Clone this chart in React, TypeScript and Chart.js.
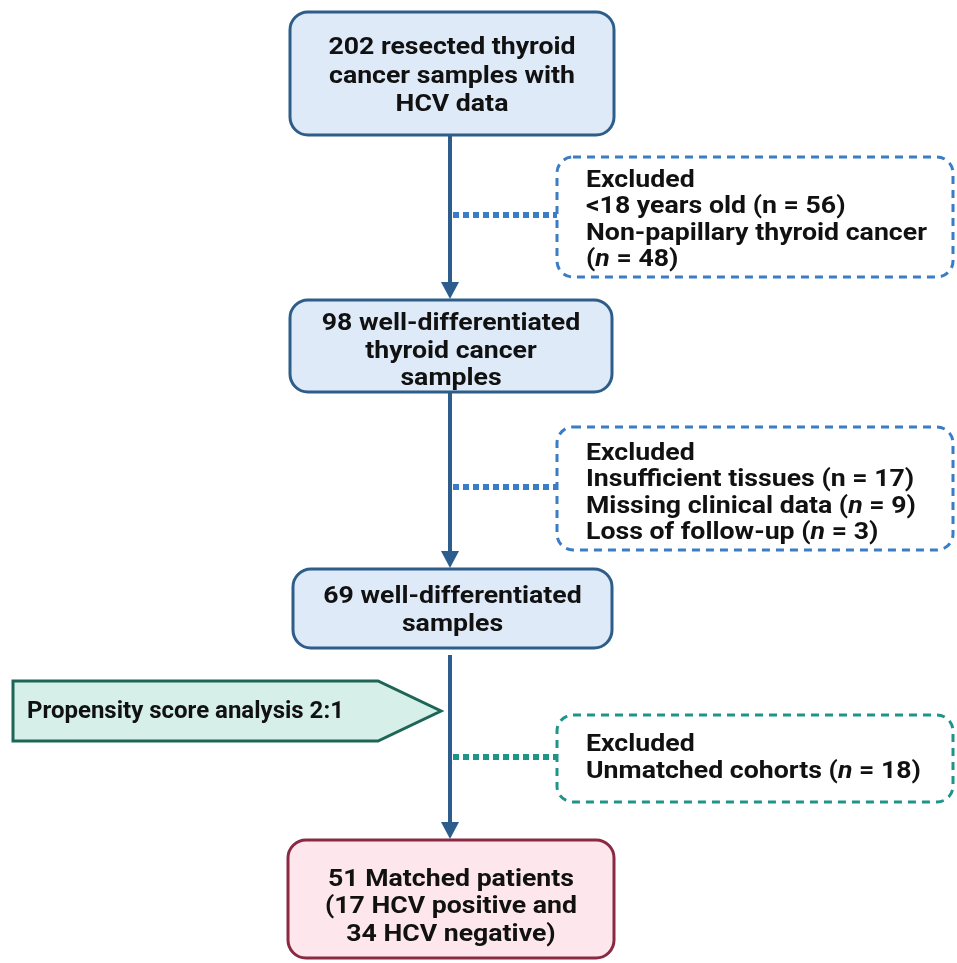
import React, { useEffect, useRef } from "react";
import { Chart, registerables } from "chart.js";

Chart.register(...registerables);

// ---- data (texts of the flow nodes) ----
const mainSteps: string[][] = [
  ["202 resected thyroid", "cancer samples with", "HCV data"],
  ["98 well-differentiated", "thyroid cancer", "samples"],
  ["69 well-differentiated", "samples"],
  ["51 Matched patients", "(17 HCV positive and", "34 HCV negative)"],
];
const exclusions: string[][] = [
  ["Excluded", "<18 years old (n = 56)", "Non-papillary thyroid cancer", "(*n* = 48)"],
  ["Excluded", "Insufficient tissues (n = 17)", "Missing clinical data (*n* = 9)", "Loss of follow-up (*n* = 3)"],
  ["Excluded", "Unmatched cohorts (*n* = 18)"],
];
const sideNote: string[] = ["Propensity score analysis 2:1"];

// ---- layout (in data units of the hidden 0..957 x 0..963 scales) ----
const mainBoxes = [
  { x0: 290, x1: 614, y0: 12, y1: 135, lines: [48, 77, 105], fill: "#dfeaf8", stroke: "#2d5d88" },
  { x0: 290, x1: 612, y0: 300, y1: 392, lines: [324, 352, 379], fill: "#dfeaf8", stroke: "#2d5d88" },
  { x0: 293, x1: 612, y0: 569, y1: 648, lines: [597, 625], fill: "#dfeaf8", stroke: "#2d5d88" },
  { x0: 288, x1: 614, y0: 840, y1: 958, lines: [880, 907, 935], fill: "#fde6ec", stroke: "#8a2a42" },
];
const exclBoxes = [
  { x0: 557, x1: 953, y0: 157, y1: 277, tx: 586, lines: [181, 207, 234, 260], conn: 215, color: "#3a7cc6" },
  { x0: 557, x1: 953, y0: 427, y1: 550, tx: 586, lines: [454, 480, 507, 533], conn: 487, color: "#3a7cc6" },
  { x0: 557, x1: 953, y0: 715, y1: 802, tx: 586, lines: [745, 772], conn: 757, color: "#1f9488" },
];
const arrows = [
  { x: 450, y0: 135, y1: 299 },
  { x: 450, y0: 392, y1: 568 },
  { x: 450, y0: 655, y1: 839 },
];
const pentagon = { x0: 13, x1: 378, tip: 441, y0: 681, y1: 741, tx: 27, ty: 712 };

const FONT = "Roboto, 'Noto Sans', sans-serif";

function drawRich(
  ctx: CanvasRenderingContext2D,
  text: string,
  x: number,
  y: number,
  size: number,
  align: "left" | "center",
  stretch: number
) {
  const parts = text.split("*");
  const segs = parts.map((t, i) => ({ t, it: i % 2 === 1 }));
  const fontFor = (it: boolean) => `${it ? "italic " : ""}bold ${size}px ${FONT}`;
  let total = 0;
  for (const s of segs) {
    ctx.font = fontFor(s.it);
    total += ctx.measureText(s.t).width;
  }
  ctx.save();
  ctx.translate(x, y);
  ctx.scale(stretch, 1);
  let cx = align === "center" ? -total / 2 : 0;
  ctx.textAlign = "left";
  ctx.textBaseline = "middle";
  for (const s of segs) {
    ctx.font = fontFor(s.it);
    ctx.fillText(s.t, cx, 0);
    cx += ctx.measureText(s.t).width;
  }
  ctx.restore();
}

function roundRect(ctx: CanvasRenderingContext2D, x0: number, y0: number, x1: number, y1: number, r: number) {
  ctx.beginPath();
  ctx.moveTo(x0 + r, y0);
  ctx.lineTo(x1 - r, y0);
  ctx.arcTo(x1, y0, x1, y0 + r, r);
  ctx.lineTo(x1, y1 - r);
  ctx.arcTo(x1, y1, x1 - r, y1, r);
  ctx.lineTo(x0 + r, y1);
  ctx.arcTo(x0, y1, x0, y1 - r, r);
  ctx.lineTo(x0, y0 + r);
  ctx.arcTo(x0, y0, x0 + r, y0, r);
  ctx.closePath();
}

const flowPlugin = {
  id: "flow",
  afterDatasetsDraw(chart: any) {
    const ctx: CanvasRenderingContext2D = chart.ctx;
    const sx = chart.scales.x;
    const sy = chart.scales.y;
    const X = (v: number) => sx.getPixelForValue(v);
    const Y = (v: number) => sy.getPixelForValue(v);
    ctx.save();

    // arrows
    arrows.forEach((a) => {
      ctx.strokeStyle = "#2d5d8c";
      ctx.fillStyle = "#2d5d8c";
      ctx.lineWidth = 4;
      ctx.setLineDash([]);
      ctx.beginPath();
      ctx.moveTo(X(a.x), Y(a.y0));
      ctx.lineTo(X(a.x), Y(a.y1) - 14);
      ctx.stroke();
      ctx.beginPath();
      ctx.moveTo(X(a.x) - 9, Y(a.y1) - 17);
      ctx.lineTo(X(a.x) + 9, Y(a.y1) - 17);
      ctx.lineTo(X(a.x), Y(a.y1));
      ctx.closePath();
      ctx.fill();
    });

    // dotted connectors + exclusion boxes
    exclBoxes.forEach((b, i) => {
      ctx.strokeStyle = b.color;
      ctx.lineWidth = 6;
      ctx.setLineDash([6, 4]);
      ctx.beginPath();
      ctx.moveTo(X(453), Y(b.conn));
      ctx.lineTo(X(b.x0), Y(b.conn));
      ctx.stroke();

      ctx.lineWidth = 3;
      ctx.setLineDash([8, 6]);
      roundRect(ctx, X(b.x0), Y(b.y0), X(b.x1), Y(b.y1), 16);
      ctx.fillStyle = "#ffffff";
      ctx.fill();
      ctx.stroke();
      ctx.setLineDash([]);
      ctx.fillStyle = "#111111";
      exclusions[i].forEach((t, j) => drawRich(ctx, t, X(b.tx), Y(b.lines[j]), 23, "left", 1.16));
    });

    // main boxes
    mainBoxes.forEach((b, i) => {
      ctx.setLineDash([]);
      ctx.lineWidth = 3;
      ctx.strokeStyle = b.stroke;
      ctx.fillStyle = b.fill;
      roundRect(ctx, X(b.x0), Y(b.y0), X(b.x1), Y(b.y1), 18);
      ctx.fill();
      ctx.stroke();
      ctx.fillStyle = "#111111";
      const cx = (X(b.x0) + X(b.x1)) / 2;
      mainSteps[i].forEach((t, j) => drawRich(ctx, t, cx, Y(b.lines[j]), 24, "center", 1.11));
    });

    // propensity pentagon
    const p = pentagon;
    ctx.lineWidth = 3;
    ctx.strokeStyle = "#1d6656";
    ctx.fillStyle = "#d6efe9";
    ctx.beginPath();
    ctx.moveTo(X(p.x0), Y(p.y0));
    ctx.lineTo(X(p.x1), Y(p.y0));
    ctx.lineTo(X(p.tip), Y((p.y0 + p.y1) / 2));
    ctx.lineTo(X(p.x1), Y(p.y1));
    ctx.lineTo(X(p.x0), Y(p.y1));
    ctx.closePath();
    ctx.fill();
    ctx.stroke();
    ctx.fillStyle = "#111111";
    drawRich(ctx, sideNote[0], X(p.tx), Y(p.ty), 24, "left", 1.0);

    ctx.restore();
  },
};

export default function App() {
  const ref = useRef<HTMLCanvasElement | null>(null);
  useEffect(() => {
    if (!ref.current) return;
    const chart = new Chart(ref.current, {
      type: "scatter",
      data: {
        datasets: [
          {
            data: mainBoxes.map((b) => ({ x: (b.x0 + b.x1) / 2, y: (b.y0 + b.y1) / 2 })),
            pointRadius: 0,
          },
        ],
      },
      options: {
        animation: false,
        responsive: false,
        layout: { padding: 0 },
        plugins: { legend: { display: false }, tooltip: { enabled: false } },
        scales: {
          x: { type: "linear", min: 0, max: 957, display: false },
          y: { type: "linear", min: 0, max: 963, reverse: true, display: false },
        },
      },
      plugins: [flowPlugin],
    });
    return () => chart.destroy();
  }, []);
  return (
    <div style={{ position: "absolute", left: 0, top: 0, width: 957, height: 963, background: "#fff" }}>
      <canvas ref={ref} width={957} height={963} style={{ display: "block" }} />
    </div>
  );
}
